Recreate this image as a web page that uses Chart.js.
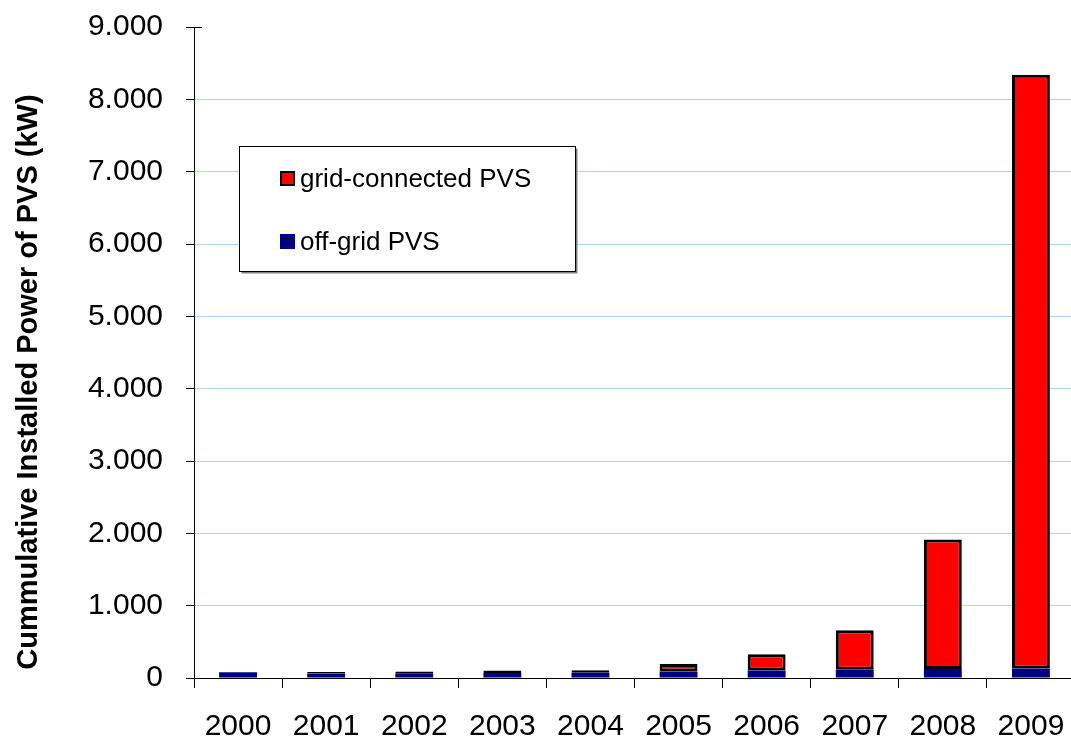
<!DOCTYPE html>
<html>
<head>
<meta charset="utf-8">
<script src="https://cdn.jsdelivr.net/npm/chart.js@4.4.0/dist/chart.umd.min.js"></script>
<style>
  html, body { margin: 0; padding: 0; background: #ffffff; overflow: hidden; width: 1071px; height: 738px; }
  #wrap { position: relative; width: 1077px; height: 738px; }
</style>
</head>
<body>
<div id="wrap"><canvas id="c" width="1077" height="738"></canvas></div>
<script>
const years = ['2000','2001','2002','2003','2004','2005','2006','2007','2008','2009'];
const offGrid = [80, 62, 65, 70, 72, 90, 105, 115, 125, 130];
const gridConnected = [0, 20, 25, 35, 35, 105, 225, 545, 1790, 8210];
const yTickLabels = ['0','1.000','2.000','3.000','4.000','5.000','6.000','7.000','8.000','9.000'];
const seriesNames = ['off-grid PVS', 'grid-connected PVS'];
const yTitle = 'Cummulative Installed Power of PVS (kW)';

const FONT = "'Liberation Sans', Arial, sans-serif";

const overlay = {
  id: 'overlay',
  afterDraw(chart) {
    const ctx = chart.ctx;
    const ca = chart.chartArea;
    // inner part of the top crossing tick
    ctx.save();
    ctx.strokeStyle = '#000';
    ctx.lineWidth = 1;
    ctx.beginPath();
    const yTop = Math.round(chart.scales.y.getPixelForValue(9000)) + 0.5;
    ctx.moveTo(ca.left, yTop);
    ctx.lineTo(ca.left + 8, yTop);
    ctx.stroke();
    ctx.restore();

    ctx.save();
    // y axis title
    ctx.translate(29, 382);
    ctx.rotate(-Math.PI / 2);
    ctx.font = "bold 29px " + FONT;
    ctx.fillStyle = '#000';
    ctx.textAlign = 'center';
    ctx.textBaseline = 'middle';
    ctx.fillText(yTitle, 0, 0);
    ctx.restore();

    // legend box
    ctx.save();
    const bx = 239.5, by = 146.5, bw = 336, bh = 125;
    ctx.fillStyle = '#fff';
    ctx.fillRect(bx, by, bw, bh);
    ctx.strokeStyle = '#808080';
    ctx.lineWidth = 2;
    ctx.beginPath();
    ctx.moveTo(bx + 2, by + bh + 1);
    ctx.lineTo(bx + bw + 1, by + bh + 1);
    ctx.lineTo(bx + bw + 1, by + 2);
    ctx.stroke();
    ctx.strokeStyle = '#000';
    ctx.lineWidth = 1;
    ctx.strokeRect(bx, by, bw, bh);

    const items = [
      { ds: chart.data.datasets[1], y: 179 },
      { ds: chart.data.datasets[0], y: 242 }
    ];
    ctx.font = "26px " + FONT;
    ctx.textAlign = 'left';
    ctx.textBaseline = 'middle';
    items.forEach(it => {
      ctx.fillStyle = it.ds.backgroundColor;
      ctx.fillRect(280, it.y - 8, 15, 15);
      if (it.ds.borderWidth) {
        ctx.strokeStyle = '#000';
        ctx.lineWidth = 2;
        ctx.strokeRect(281, it.y - 7, 13, 13);
      }
      ctx.fillStyle = '#000';
      ctx.fillText(it.ds.label, 300, it.y + 1);
    });
    ctx.restore();
  }
};

new Chart(document.getElementById('c'), {
  type: 'bar',
  data: {
    labels: years,
    datasets: [
      {
        label: seriesNames[0],
        data: offGrid,
        backgroundColor: '#000080',
        borderWidth: 0,
        categoryPercentage: 1,
        barPercentage: 0.43
      },
      {
        label: seriesNames[1],
        data: gridConnected,
        backgroundColor: '#FF0000',
        borderColor: '#000000',
        borderWidth: 3,
        borderSkipped: false,
        categoryPercentage: 1,
        barPercentage: 0.43
      }
    ]
  },
  options: {
    responsive: false,
    animation: false,
    layout: { padding: { top: 27, right: 2, left: 0, bottom: 0 } },
    plugins: {
      legend: { display: false },
      tooltip: { enabled: false },
      title: { display: false }
    },
    scales: {
      x: {
        stacked: true,
        offset: true,
        grid: { drawOnChartArea: false, tickLength: 10, tickColor: '#000', offset: true },
        border: { color: '#000', width: 1 },
        ticks: { color: '#000', font: { family: FONT, size: 30 }, padding: 21, maxRotation: 0 },
        afterFit(scale) { scale.height = 60; scale.paddingLeft = 0; scale.paddingRight = 0; }
      },
      y: {
        stacked: true,
        min: 0,
        max: 9000,
        grid: {
          color: (c) => (c.tick && (c.tick.value === 0 || c.tick.value === 9000)) ? 'rgba(0,0,0,0)' : '#B0D4F8',
          tickColor: '#000',
          tickLength: 8,
          lineWidth: 1
        },
        border: { color: '#000', width: 1 },
        ticks: {
          stepSize: 1000,
          color: '#000',
          font: { family: FONT, size: 30 },
          padding: 23,
          callback: (v, i) => yTickLabels[i]
        },
        afterFit(scale) { scale.width = 194; scale.paddingTop = 0; scale.paddingBottom = 0; }
      }
    }
  },
  plugins: [overlay]
});
</script>
</body>
</html>
